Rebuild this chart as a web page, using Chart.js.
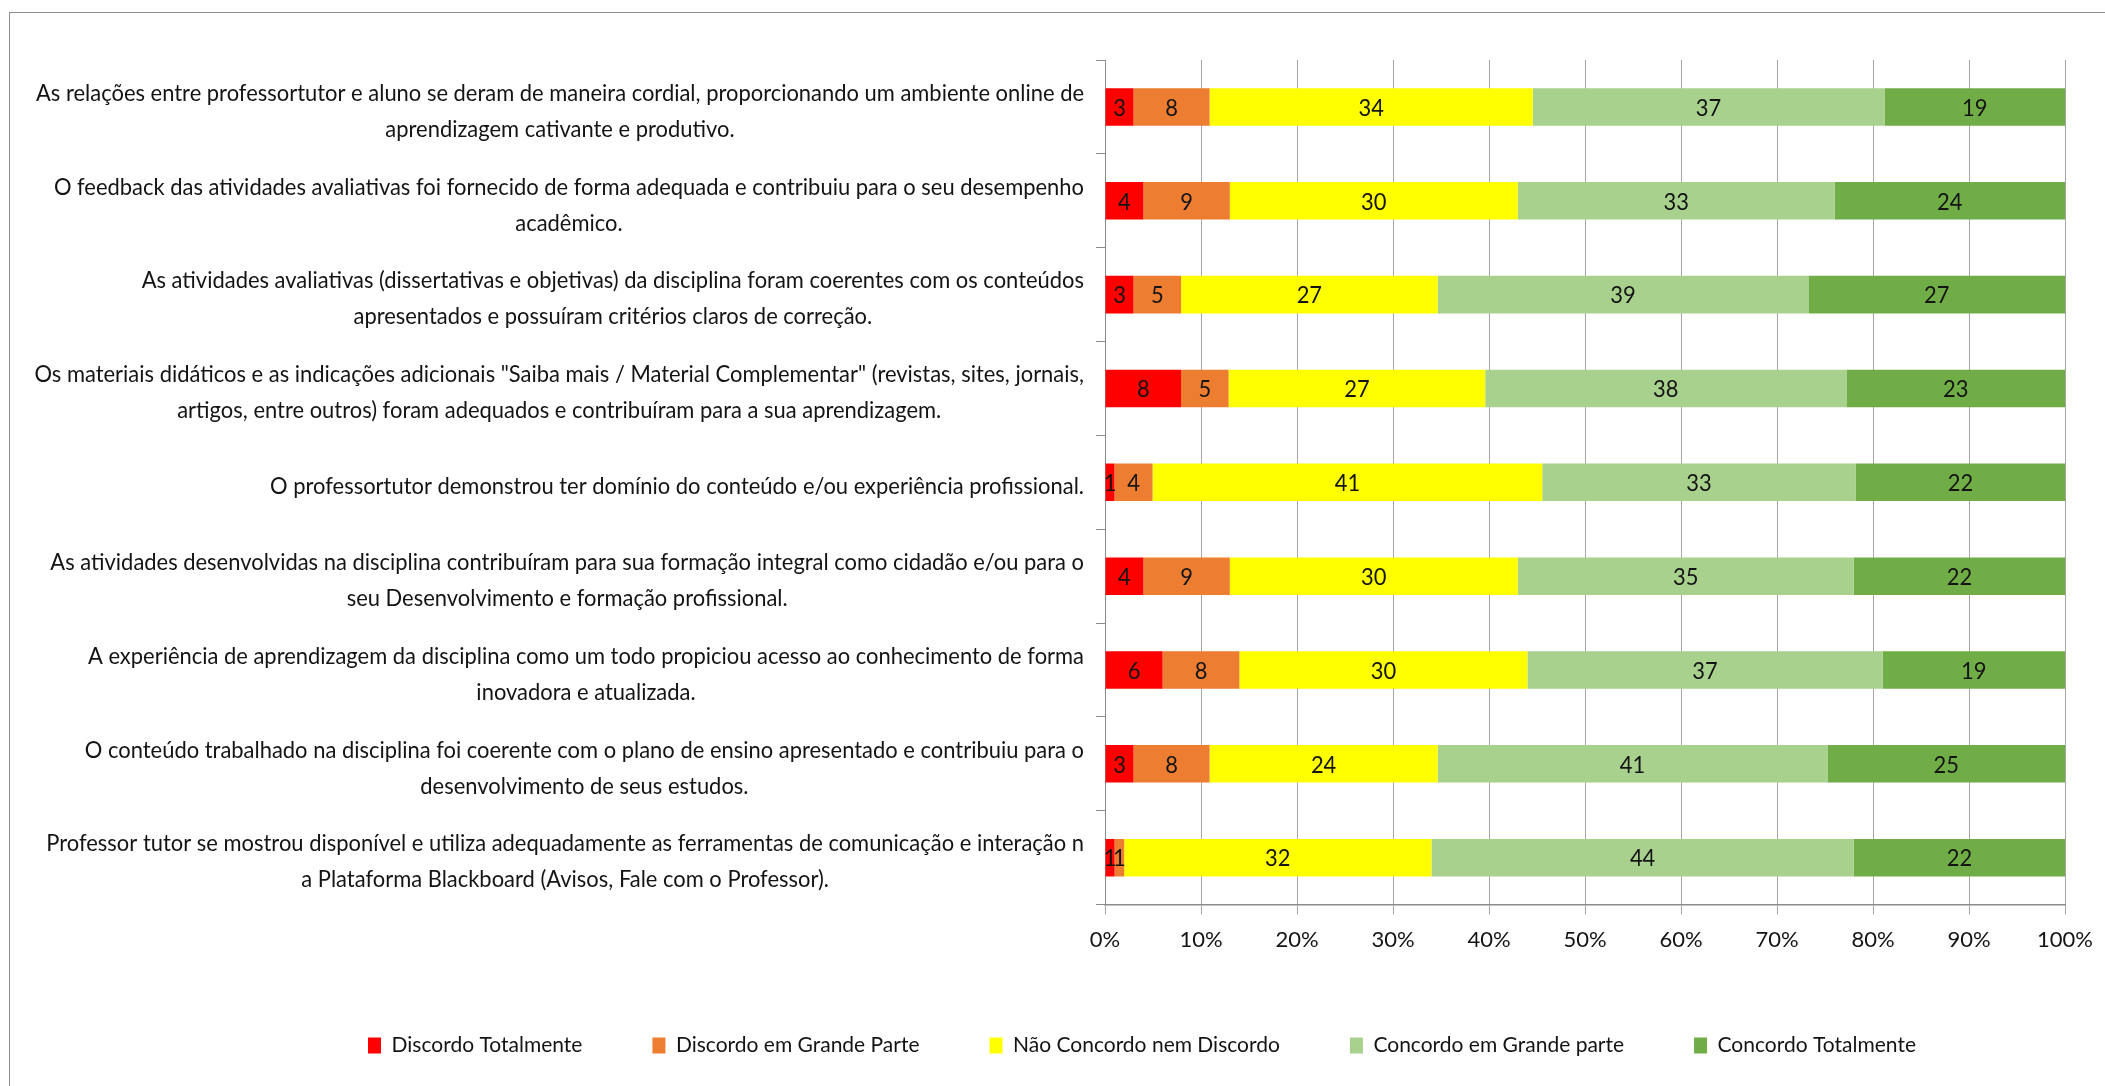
<!DOCTYPE html>
<html><head><meta charset="utf-8">
<script src="https://cdn.jsdelivr.net/npm/chart.js@4"></script>
<style>
html,body{margin:0;padding:0;background:#fff;overflow:hidden;width:2105px;height:1086px;}
#frame{position:absolute;left:9px;top:12px;width:2300px;height:1300px;border:1px solid #8f8f8f;box-sizing:border-box;pointer-events:none;}
#c{position:absolute;left:0;top:0;}
</style></head><body>
<canvas id="c" width="2105" height="1066"></canvas>
<div id="frame"></div>
<script>
const FONT_FAMILY = 'Lato, "DejaVu Sans Condensed", sans-serif';

const categories = [
  ["As relações entre professortutor e aluno se deram de maneira cordial, proporcionando um ambiente online de", "aprendizagem cativante e produtivo."],
  ["O feedback das atividades avaliativas foi fornecido de forma adequada e contribuiu para o seu desempenho", "acadêmico."],
  ["As atividades avaliativas (dissertativas e objetivas) da disciplina foram coerentes com os conteúdos", "apresentados e possuíram critérios claros de correção."],
  ["Os materiais didáticos e as indicações adicionais \"Saiba mais / Material Complementar\" (revistas, sites, jornais,", "artigos, entre outros) foram adequados e contribuíram para a sua aprendizagem."],
  ["O professortutor demonstrou ter domínio do conteúdo e/ou experiência profissional."],
  ["As atividades desenvolvidas na disciplina contribuíram para sua formação integral como cidadão e/ou para o", "seu Desenvolvimento e formação profissional."],
  ["A experiência de aprendizagem da disciplina como um todo propiciou acesso ao conhecimento de forma", "inovadora e atualizada."],
  ["O conteúdo trabalhado na disciplina foi coerente com o plano de ensino apresentado e contribuiu para o", "desenvolvimento de seus estudos."],
  ["Professor tutor se mostrou disponível e utiliza adequadamente as ferramentas de comunicação e interação n", "a Plataforma Blackboard (Avisos, Fale com o Professor)."]
];

const seriesNames = ["Discordo Totalmente", "Discordo em Grande Parte", "Não Concordo nem Discordo", "Concordo em Grande parte", "Concordo Totalmente"];

const discordoTotalmente    = [3, 4, 3, 8, 1, 4, 6, 3, 1];
const discordoGrandeParte   = [8, 9, 5, 5, 4, 9, 8, 8, 1];
const naoConcordoNemDiscordo= [34, 30, 27, 27, 41, 30, 30, 24, 32];
const concordoGrandeParte   = [37, 33, 39, 38, 33, 35, 37, 41, 44];
const concordoTotalmente    = [19, 24, 27, 23, 22, 22, 19, 25, 22];

const xTickValues = [0, 10, 20, 30, 40, 50, 60, 70, 80, 90, 100];

const seriesColors = ["#FF0000", "#ED7D31", "#FFFF00", "#A9D18E", "#70AD47"];

const rawSeries = [discordoTotalmente, discordoGrandeParte, naoConcordoNemDiscordo, concordoGrandeParte, concordoTotalmente];
const rowTotals = categories.map((_, i) => rawSeries.reduce((s, arr) => s + arr[i], 0));

const datasets = rawSeries.map((arr, di) => ({
  label: seriesNames[di],
  data: arr.map((v, i) => v / rowTotals[i] * 100),
  backgroundColor: seriesColors[di],
  borderWidth: 0,
  barPercentage: 0.4,
  categoryPercentage: 1.0
}));

const TEXT_COLOR = '#141414';
const LABEL_FONT = '24px ' + FONT_FAMILY;
const FIRST_LINE_WIDTH = 1048;   // width of the longest label line in the reference

function drawSqueezed(ctx, text, x, y, k) {
  ctx.save();
  ctx.translate(x, y);
  ctx.scale(k, 1);
  ctx.fillText(text, 0, 0);
  ctx.restore();
}

const labelPlugin = {
  id: 'catLabels',
  afterDraw(chart) {
    const ctx = chart.ctx, yScale = chart.scales.y, area = chart.chartArea;
    ctx.save();
    ctx.font = LABEL_FONT;
    ctx.fillStyle = TEXT_COLOR;
    ctx.textBaseline = 'middle';
    ctx.textAlign = 'center';
    const k = Math.min(1, FIRST_LINE_WIDTH / ctx.measureText(categories[0][0]).width);
    const right = area.left - 21;
    const lh = 36;
    categories.forEach((lines, i) => {
      const cy = yScale.getPixelForValue(i) + 4;
      const w = Math.max(...lines.map(l => ctx.measureText(l).width)) * k;
      const cx = right - w / 2;
      lines.forEach((l, n) => drawSqueezed(ctx, l, cx, cy + (n - (lines.length - 1) / 2) * lh, k));
    });
    chart.data.datasets.forEach((ds, di) => {
      const meta = chart.getDatasetMeta(di);
      meta.data.forEach((bar, j) => {
        drawSqueezed(ctx, String(rawSeries[di][j]), (bar.x + bar.base) / 2, bar.y + 1, k);
      });
    });
    ctx.restore();
  }
};

Chart.defaults.font.family = FONT_FAMILY;

new Chart(document.getElementById('c'), {
  type: 'bar',
  data: { labels: categories.map(l => l.join(' ')), datasets },
  options: {
    indexAxis: 'y',
    responsive: false,
    animation: false,
    devicePixelRatio: 1,
    layout: { padding: { left: 212, right: 33, top: 60, bottom: 0 } },
    plugins: {
      tooltip: { enabled: false },
      legend: {
        position: 'bottom',
        labels: {
          boxWidth: 13, boxHeight: 16, padding: 70,
          font: { size: 21, family: FONT_FAMILY },
          color: TEXT_COLOR
        }
      }
    },
    scales: {
      x: {
        stacked: true, min: 0, max: 100,
        afterBuildTicks(scale) { scale.ticks = xTickValues.map(v => ({ value: v })); },
        ticks: {
          callback: v => v + '%',
          font: { size: 22, family: FONT_FAMILY },
          color: TEXT_COLOR, padding: 12, maxRotation: 0, autoSkip: false
        },
        grid: { color: '#a6a6a6', tickLength: 10, drawTicks: true, lineWidth: 1 },
        border: { color: '#8c8c8c', width: 1.5 }
      },
      y: {
        stacked: true,
        ticks: { display: false },
        grid: { drawOnChartArea: false, drawTicks: true, tickLength: 9, color: '#8c8c8c', offset: true },
        border: { display: true, color: '#8c8c8c', width: 1 },
        afterFit(scale) { scale.width = 893; }
      }
    }
  },
  plugins: [labelPlugin]
});
</script>
</body></html>
